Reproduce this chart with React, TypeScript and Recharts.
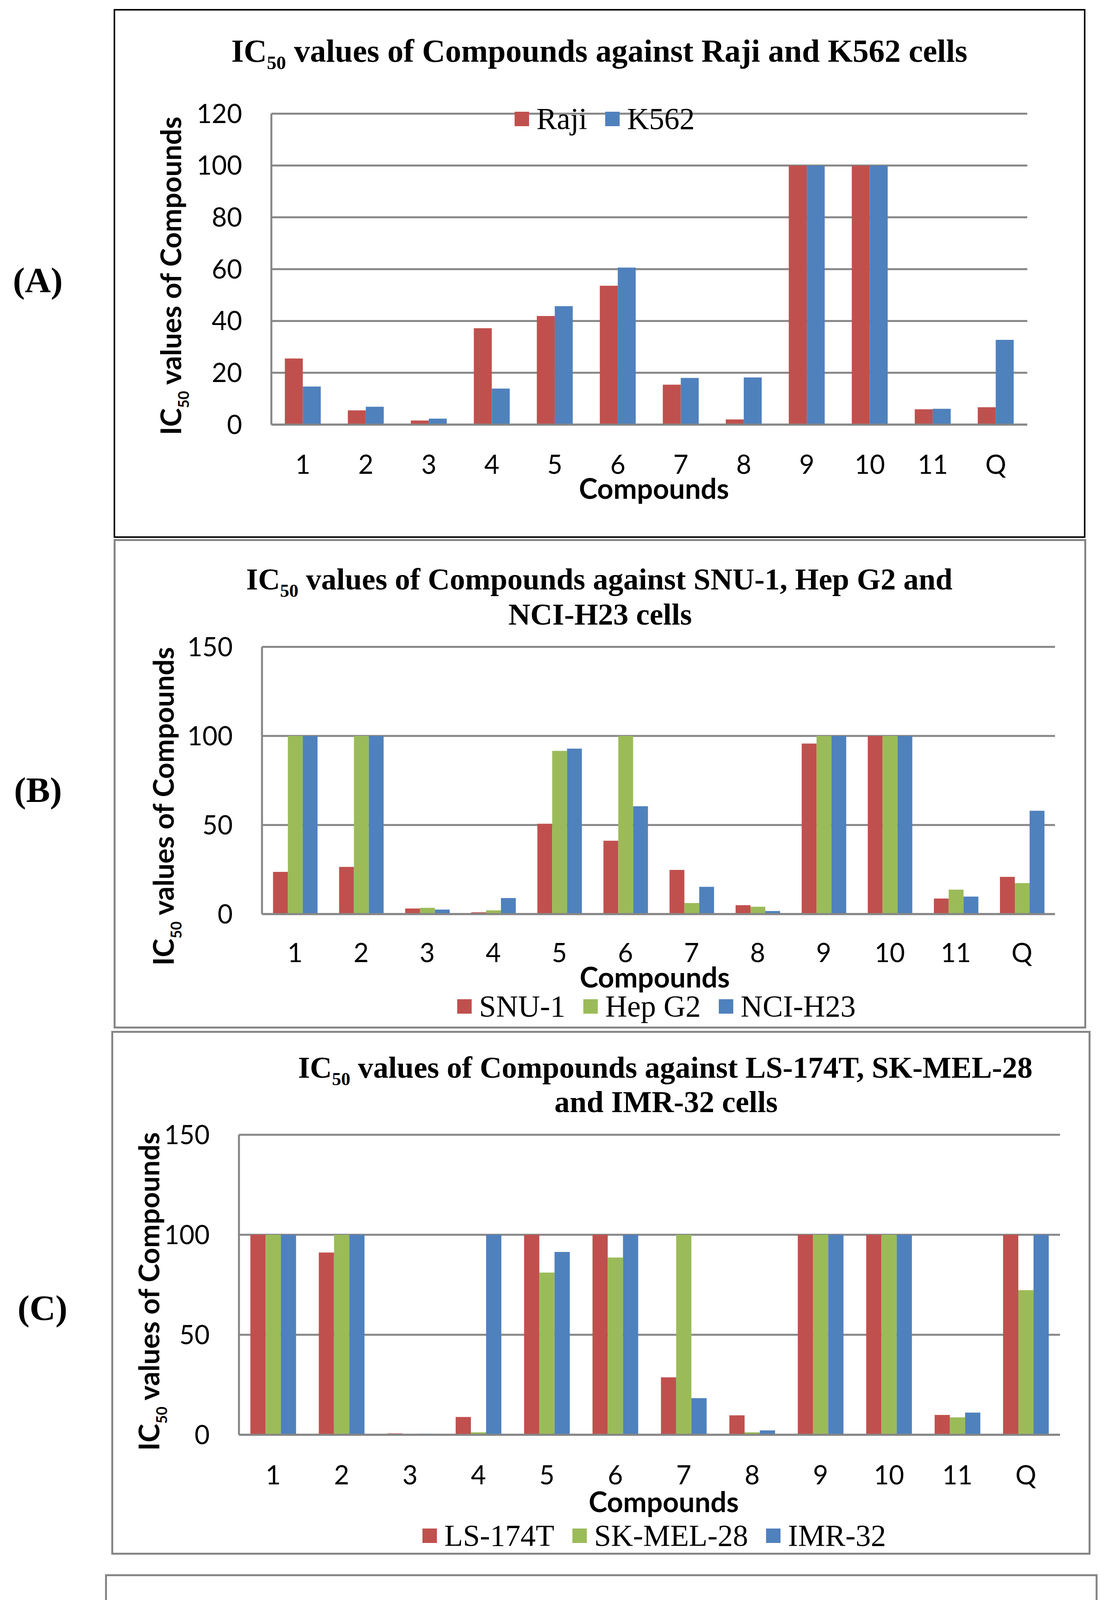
import React from 'react'
import { BarChart, Bar, XAxis, YAxis, CartesianGrid, Legend } from 'recharts'

// compounds on the x axis (same for all four panels)
const compounds = ['1', '2', '3', '4', '5', '6', '7', '8', '9', '10', '11', 'Q']

// (A) Raji / K562
const rajiValues = [25.5, 5.5, 1.6, 37.2, 41.9, 53.6, 15.4, 2.0, 100, 100, 5.9, 6.7]
const k562Values = [14.7, 6.9, 2.3, 13.9, 45.7, 60.6, 18.0, 18.2, 100, 100, 6.1, 32.7]

// (B) SNU-1 / Hep G2 / NCI-H23
const snu1Values = [23.7, 26.5, 3.1, 1.0, 50.7, 41.2, 24.8, 5.0, 95.7, 100, 8.7, 20.9]
const hepG2Values = [100, 100, 3.5, 2.1, 91.6, 100, 6.2, 4.1, 100, 100, 13.7, 17.4]
const nciH23Values = [100, 100, 2.5, 9.0, 92.9, 60.5, 15.3, 1.7, 100, 100, 9.8, 58.0]

// (C) LS-174T / SK-MEL-28 / IMR-32
const ls174tValues = [100, 91.1, 0.7, 8.9, 100, 100, 28.7, 9.7, 100, 100, 9.9, 100]
const skMel28Values = [100, 100, 0.3, 1.2, 81.1, 88.6, 100, 1.2, 100, 100, 8.7, 72.3]
const imr32Values = [100, 100, 0.5, 100, 91.4, 100, 18.3, 2.2, 100, 100, 11.1, 100]

// (D) HeLa
const helaValues = [49.5, 5.9, 2.1, 18.3, 100, 60.2, 6.7, 5.2, 37.3, 100, 10.1, 26.2]

const ticks120 = [0, 20, 40, 60, 80, 100, 120]
const ticks150 = [0, 50, 100, 150]

const RED = '#C0504D'
const GREEN = '#9BBB59'
const BLUE = '#4F81BD'
const GRID = '#868686'
const SANS = 'Lato, "Open Sans", sans-serif'
const SERIF = '"Liberation Serif", "Times New Roman", serif'

type Series = { key: string; name: string; color: string; values: number[] }

type Panel = {
  id: string
  letter: string
  letterAt: [number, number]
  box: { left: number; top: number; width: number; height: number }
  border: string
  titleSize: number
  title: { text: string; x: number; y: number; sub?: boolean }[]
  series: Series[]
  yMax: number
  yTicks: number[]
  margin: { top: number; right: number; bottom: number; left: number }
  xTickMargin: number
  gap: string
  yTitleAt: [number, number]
  xTitleAt: [number, number]
  legendAt: [number, number]
}

const buildRows = (series: Series[]) =>
  compounds.map((name, i) => {
    const row: Record<string, string | number> = { name }
    for (const s of series) row[s.key] = s.values[i]
    return row
  })

const panels: Panel[] = [
  {
    id: 'A',
    letter: '(A)',
    letterAt: [33, 748],
    box: { left: 291, top: 23, width: 2489, height: 1354 },
    border: '4px solid #000',
    titleSize: 82,
    title: [{ text: ' values of Compounds against Raji and K562 cells', x: 1535, y: 158, sub: true }],
    series: [
      { key: 'raji', name: 'Raji', color: RED, values: rajiValues },
      { key: 'k562', name: 'K562', color: BLUE, values: k562Values },
    ],
    yMax: 120,
    yTicks: ticks120,
    margin: { top: 268, right: 149, bottom: 90, left: 154 },
    xTickMargin: 78,
    gap: '21.4%',
    yTitleAt: [173, 683],
    xTitleAt: [1384, 1254],
    legendAt: [1027, 242],
  },
  {
    id: 'B',
    letter: '(B)',
    letterAt: [36, 2053],
    box: { left: 291, top: 1380, width: 2491, height: 1253 },
    border: `5px solid ${GRID}`,
    titleSize: 78,
    title: [
      { text: ' values of Compounds against SNU-1, Hep G2 and', x: 1535, y: 1509, sub: true },
      { text: 'NCI-H23 cells', x: 1537, y: 1599 },
    ],
    series: [
      { key: 'snu1', name: 'SNU-1', color: RED, values: snu1Values },
      { key: 'hepg2', name: 'Hep G2', color: GREEN, values: hepG2Values },
      { key: 'nci', name: 'NCI-H23', color: BLUE, values: nciH23Values },
    ],
    yMax: 150,
    yTicks: ticks150,
    margin: { top: 276, right: 80, bottom: 93, left: 130 },
    xTickMargin: 75,
    gap: '16.7%',
    yTitleAt: [154, 684],
    xTitleAt: [1386, 1148],
    legendAt: [880, 1157],
  },
  {
    id: 'C',
    letter: '(C)',
    letterAt: [45, 3379],
    box: { left: 285, top: 2639, width: 2508, height: 1341 },
    border: `5px solid ${GRID}`,
    titleSize: 78,
    title: [
      { text: ' values of Compounds against LS-174T, SK-MEL-28', x: 1704, y: 2759, sub: true },
      { text: 'and IMR-32 cells', x: 1706, y: 2847 },
    ],
    series: [
      { key: 'ls', name: 'LS-174T', color: RED, values: ls174tValues },
      { key: 'sk', name: 'SK-MEL-28', color: GREEN, values: skMel28Values },
      { key: 'imr', name: 'IMR-32', color: BLUE, values: imr32Values },
    ],
    yMax: 150,
    yTicks: ticks150,
    margin: { top: 266, right: 78, bottom: 107, left: 77 },
    xTickMargin: 79,
    gap: '16.7%',
    yTitleAt: [123, 667],
    xTitleAt: [1415, 1232],
    legendAt: [797, 1253],
  },
  {
    id: 'D',
    letter: '(D)',
    letterAt: [33, 4735],
    box: { left: 269, top: 4030, width: 2542, height: 1309 },
    border: `5px solid ${GRID}`,
    titleSize: 78,
    title: [{ text: ' values of Compounds against HeLa cells', x: 1539, y: 4164, sub: true }],
    series: [{ key: 'hela', name: 'HeLa', color: BLUE, values: helaValues }],
    yMax: 120,
    yTicks: ticks120,
    margin: { top: 266, right: 383, bottom: 48, left: 135 },
    xTickMargin: 82,
    gap: '30%',
    yTitleAt: [158, 694],
    xTitleAt: [1272, 1275],
    legendAt: [2233, 699],
  },
]

const Y_AXIS_W = 250
const X_AXIS_H = 200
const tickStyle = { fontFamily: SANS, fontSize: 67, fill: '#000' }

function makeLegend(series: Series[]) {
  const order = series.map((s) => s.name)
  return (props: any) => {
    const items = [...(props.payload ?? [])].sort(
      (a: any, b: any) => order.indexOf(a.value) - order.indexOf(b.value)
    )
    return (
      <div
        style={{
          display: 'flex',
          alignItems: 'center',
          gap: 46,
          whiteSpace: 'nowrap',
          fontFamily: SERIF,
          fontSize: 78,
          lineHeight: 1,
          color: '#000',
        }}
      >
        {items.map((it: any) => (
          <div key={it.value} style={{ display: 'flex', alignItems: 'center' }}>
            <span style={{ display: 'inline-block', width: 37, height: 37, background: it.color, marginRight: 19 }} />
            <span>{it.value}</span>
          </div>
        ))}
      </div>
    )
  }
}

function PanelChart({ p }: { p: Panel }) {
  const rows = buildRows(p.series)
  const [yx, yy] = p.yTitleAt
  const [xx, xy] = p.xTitleAt
  return (
    <div style={{ position: 'absolute', left: p.box.left, top: p.box.top }}>
      <BarChart
        width={p.box.width}
        height={p.box.height}
        data={rows}
        margin={p.margin}
        barCategoryGap={p.gap}
        barGap={0}
      >
        <CartesianGrid vertical={false} stroke={GRID} strokeWidth={5} />
        <XAxis
          dataKey="name"
          interval={0}
          height={X_AXIS_H}
          axisLine={{ stroke: GRID, strokeWidth: 5 }}
          tickLine={false}
          tickSize={0}
          tickMargin={p.xTickMargin}
          tick={tickStyle}
          label={() => (
            <text x={xx} y={xy} textAnchor="middle" fontFamily={SANS} fontWeight={700} fontSize={72} fill="#000">
              Compounds
            </text>
          )}
        />
        <YAxis
          domain={[0, p.yMax]}
          ticks={p.yTicks}
          allowDataOverflow
          width={Y_AXIS_W}
          axisLine={{ stroke: GRID, strokeWidth: 5 }}
          tickLine={false}
          tickSize={0}
          tickMargin={75}
          tick={tickStyle}
          label={() => (
            <text
              x={yx}
              y={yy}
              transform={`rotate(-90 ${yx} ${yy})`}
              textAnchor="middle"
              fontFamily={SANS}
              fontWeight={700}
              fontSize={72}
              fill="#000"
            >
              <tspan>IC</tspan>
              <tspan fontSize={38} dy={20}>50</tspan>
              <tspan dy={-20}> values of Compounds</tspan>
            </text>
          )}
        />
        <Legend
          layout="horizontal"
          verticalAlign="middle"
          align="center"
          content={makeLegend(p.series)}
          wrapperStyle={{ left: p.legendAt[0], top: p.legendAt[1], width: 'auto', height: 'auto' }}
        />
        {p.series.map((s) => (
          <Bar key={s.key} dataKey={s.key} name={s.name} fill={s.color} isAnimationActive={false} />
        ))}
      </BarChart>
    </div>
  )
}

export default function App() {
  // the page keeps its 8px body margin, so pull the canvas back to the corner
  return (
    <div style={{ position: 'relative', width: 2848, height: 5387, margin: -8, background: '#fff' }}>
      {panels.map((p) => (
        <div
          key={`box-${p.id}`}
          style={{
            position: 'absolute',
            left: p.box.left,
            top: p.box.top,
            width: p.box.width,
            height: p.box.height,
            border: p.border,
            boxSizing: 'border-box',
          }}
        />
      ))}
      {panels.map((p) => (
        <PanelChart key={p.id} p={p} />
      ))}
      <svg width={2848} height={5387} style={{ position: 'absolute', left: 0, top: 0, pointerEvents: 'none' }}>
        {panels.map((p) => (
          <g key={`t-${p.id}`} fontFamily={SERIF} fontWeight={700} fill="#000">
            <text x={p.letterAt[0]} y={p.letterAt[1]} fontSize={92}>
              {p.letter}
            </text>
            {p.title.map((line, i) =>
              line.sub ? (
                <text key={i} x={line.x} y={line.y} textAnchor="middle" fontSize={p.titleSize}>
                  <tspan>IC</tspan>
                  <tspan fontSize={Math.round(p.titleSize * 0.6)} dy={19}>50</tspan>
                  <tspan dy={-19}>{line.text}</tspan>
                </text>
              ) : (
                <text key={i} x={line.x} y={line.y} textAnchor="middle" fontSize={p.titleSize}>
                  {line.text}
                </text>
              )
            )}
          </g>
        ))}
      </svg>
    </div>
  )
}
